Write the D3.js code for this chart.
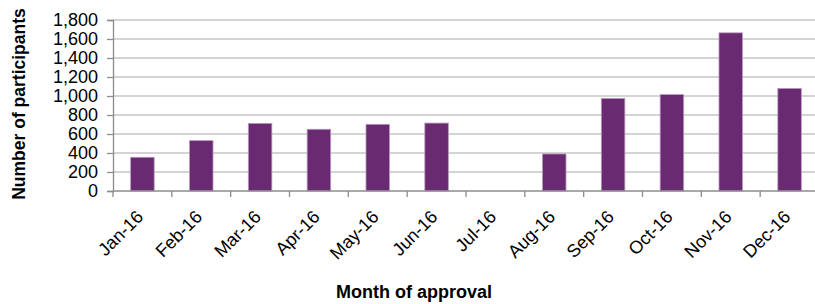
<!DOCTYPE html>
<html>
<head>
<meta charset="utf-8">
<script src="https://cdn.jsdelivr.net/npm/d3@7"></script>
<style>
html,body{margin:0;padding:0;background:#fff;}
svg{display:block;}
text{font-family:"Liberation Sans",Arial,sans-serif;}
</style>
</head>
<body>
<svg id="chart" width="815" height="304"></svg>
<script>
const categories = ["Jan-16","Feb-16","Mar-16","Apr-16","May-16","Jun-16","Jul-16","Aug-16","Sep-16","Oct-16","Nov-16","Dec-16"];
const values = [355, 530, 712, 650, 702, 715, 0, 390, 975, 1015, 1665, 1080];
const yTicks = [0,200,400,600,800,1000,1200,1400,1600,1800];

(function () {
const svg = d3.select("#chart");
const mLeft = 113, mRight = 819, mTop = 20, mBottom = 191;
const fs = "18px";

const x = d3.scaleBand().domain(categories).range([mLeft, mRight]).paddingInner(0.6).paddingOuter(0.3);
const y = d3.scaleLinear().domain([0, 1800]).range([mBottom, mTop]);

// gridlines
svg.append("g").selectAll("line").data(yTicks.filter(d => d > 0)).join("line")
  .attr("x1", mLeft).attr("x2", mRight)
  .attr("y1", d => y(d)).attr("y2", d => y(d))
  .attr("stroke", "#c6c6c6").attr("stroke-width", 1.5);

// bars
svg.append("g").selectAll("rect").data(categories).join("rect")
  .attr("x", (d) => x(d))
  .attr("width", x.bandwidth())
  .attr("y", (d, i) => y(values[i]))
  .attr("height", (d, i) => mBottom - y(values[i]))
  .attr("fill", "#6a2a72")
  .attr("stroke", (d, i) => values[i] > 0 ? "#b89bbd" : "none")
  .attr("stroke-width", 0.8);

// y axis
const yAxis = d3.axisLeft(y).tickValues(yTicks).tickFormat(d3.format(",")).tickSize(6).tickPadding(9);
const gy = svg.append("g").attr("transform", `translate(${mLeft},0)`).call(yAxis);
gy.select(".domain").attr("stroke", "#8c8c8c").attr("stroke-width", 1.3);
gy.selectAll(".tick line").attr("stroke", "#8c8c8c").attr("stroke-width", 1.3);
gy.selectAll("text").attr("font-size", fs).attr("fill", "#000")
  .attr("font-family", "Liberation Sans, Arial, sans-serif");

// x axis
const xStep = x.step();
const xAxis = d3.axisBottom(x).tickSize(0).tickPadding(0);
const gx = svg.append("g").attr("transform", `translate(0,${mBottom})`).call(xAxis);
gx.select(".domain").attr("d", `M${mLeft},0H${mRight}`).attr("stroke", "#8c8c8c").attr("stroke-width", 1.3);
const bounds = d3.range(categories.length + 1).map(i => mLeft + i * xStep);
gx.append("g").selectAll("line").data(bounds).join("line")
  .attr("x1", d => d).attr("x2", d => d).attr("y1", 0).attr("y2", 6)
  .attr("stroke", "#8c8c8c").attr("stroke-width", 1.3);
gx.selectAll(".tick text")
  .attr("font-size", fs).attr("fill", "#000")
  .attr("font-family", "Liberation Sans, Arial, sans-serif")
  .attr("text-anchor", "end")
  .attr("dy", "0")
  .attr("transform", "translate(2,27) rotate(-45)");

// axis titles
svg.append("text")
  .attr("transform", `translate(25,104) rotate(-90)`)
  .attr("text-anchor", "middle")
  .attr("font-size", "17.5px").attr("font-weight", "bold").attr("fill", "#000")
  .text("Number of participants");

svg.append("text")
  .attr("x", 414).attr("y", 298)
  .attr("text-anchor", "middle")
  .attr("font-size", fs).attr("font-weight", "bold").attr("fill", "#000")
  .text("Month of approval");
})();
</script>
</body>
</html>
